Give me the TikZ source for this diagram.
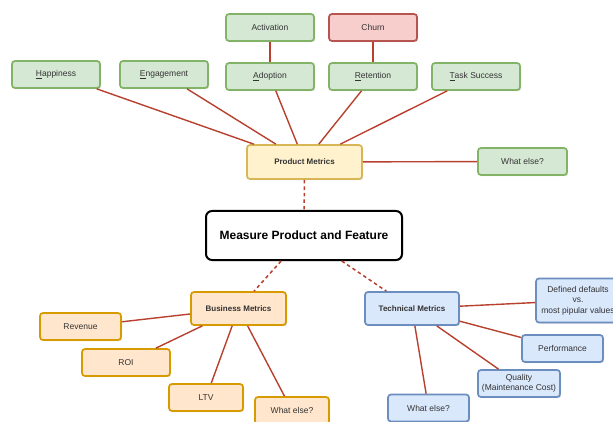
\documentclass[tikz,border=0pt]{standalone}
\usepackage{fontspec}
\setmainfont{Liberation Sans}
\usetikzlibrary{shadows}
\definecolor{gfill}{HTML}{D5E8D4}\definecolor{gdraw}{HTML}{82B366}
\definecolor{rfill}{HTML}{F8CECC}\definecolor{rdraw}{HTML}{B85450}
\definecolor{yfill}{HTML}{FFF2CC}\definecolor{ydraw}{HTML}{D6B656}
\definecolor{ofill}{HTML}{FFE6CC}\definecolor{odraw}{HTML}{D79B00}
\definecolor{bfill}{HTML}{DAE8FC}\definecolor{bdraw}{HTML}{6C8EBF}
\definecolor{link}{HTML}{B7412E}
\begin{document}
\begin{tikzpicture}[x=1pt,y=-1pt,
  box/.style={rectangle,rounded corners=3pt,line width=1.7pt,align=center,
    font=\fontsize{8.5}{10}\selectfont,text=black!80,inner sep=1pt,
    drop shadow={shadow xshift=1.2pt,shadow yshift=-1.2pt,opacity=0.25}},
  gbox/.style={box,fill=gfill,draw=gdraw},
  rbox/.style={box,fill=rfill,draw=rdraw},
  ybox/.style={box,fill=yfill,draw=ydraw},
  obox/.style={box,fill=ofill,draw=odraw},
  bbox/.style={box,fill=bfill,draw=bdraw},
  bold/.style={font=\fontsize{8}{9.5}\selectfont\bfseries},
  conn/.style={draw=link,line width=1.4pt},
  dconn/.style={draw=link,line width=1.5pt,dash pattern=on 3.5pt off 3pt}]
\useasboundingbox (0,0) rectangle (613,422);
\fill[white] (0,0) rectangle (613,422);
% top
\node[gbox,minimum width=88pt,minimum height=27pt] (hap) at (56,74.5) {\underline{H}appiness};
\node[gbox,minimum width=88pt,minimum height=27pt] (eng) at (164,74.5) {\underline{E}ngagement};
\node[gbox,minimum width=88pt,minimum height=27pt] (act) at (270,27.5) {Activation};
\node[gbox,minimum width=88pt,minimum height=27pt] (ado) at (270,76.5) {\underline{A}doption};
\node[rbox,minimum width=88pt,minimum height=27pt] (chu) at (373,27.5) {Churn};
\node[gbox,minimum width=88pt,minimum height=27pt] (ret) at (373,76.5) {\underline{R}etention};
\node[gbox,minimum width=88pt,minimum height=27pt] (tsk) at (476,76.5) {\underline{T}ask Success};
\node[ybox,bold,minimum width=115pt,minimum height=34pt] (pm) at (304.5,162) {Product Metrics};
\node[gbox,minimum width=89pt,minimum height=27pt] (pwe) at (522.5,161.5) {What else?};
% center
\node[box,fill=white,draw=black,line width=2pt,rounded corners=6pt,
  minimum width=196pt,minimum height=49pt,font=\fontsize{12}{14}\selectfont\bfseries,text=black] (mes) at (304,235.5) {Measure Product and Feature};
% business
\node[obox,bold,minimum width=95pt,minimum height=33pt] (bm) at (238.5,308.5) {Business Metrics};
\node[obox,minimum width=81pt,minimum height=27pt] (rev) at (80.5,326.5) {Revenue};
\node[obox,minimum width=88pt,minimum height=27pt] (roi) at (126,362.5) {ROI};
\node[obox,minimum width=74pt,minimum height=27pt] (ltv) at (206,397.5) {LTV};
\node[obox,minimum width=74pt,minimum height=27pt] (bwe) at (292,410.5) {What else?};
% technical
\node[bbox,bold,minimum width=94pt,minimum height=33pt] (tm) at (412,308.5) {Technical Metrics};
\node[bbox,minimum width=84pt,minimum height=44pt,inner sep=0pt,font=\fontsize{8.5}{10.5}\selectfont] (def) at (578,300.5) {Defined defaults\\vs.\\most pipular values};
\node[bbox,minimum width=81pt,minimum height=27pt] (per) at (562.5,348.5) {Performance};
\node[bbox,minimum width=82pt,minimum height=27pt] (qua) at (519,383.5) {Quality\\(Maintenance Cost)};
\node[bbox,minimum width=81pt,minimum height=27pt] (twe) at (428.5,408) {What else?};
% connectors
\foreach \a in {hap,eng,ado,ret,tsk,pwe} \draw[conn] (\a) -- (pm);
\draw[conn] (act) -- (ado);
\draw[conn] (chu) -- (ret);
\foreach \a in {rev,roi,ltv,bwe} \draw[conn] (\a) -- (bm);
\foreach \a in {def,per,qua,twe} \draw[conn] (\a) -- (tm);
\draw[dconn] (pm) -- (mes);
\draw[dconn] (mes) -- (bm);
\draw[dconn] (mes) -- (tm);
\end{tikzpicture}
\end{document}
